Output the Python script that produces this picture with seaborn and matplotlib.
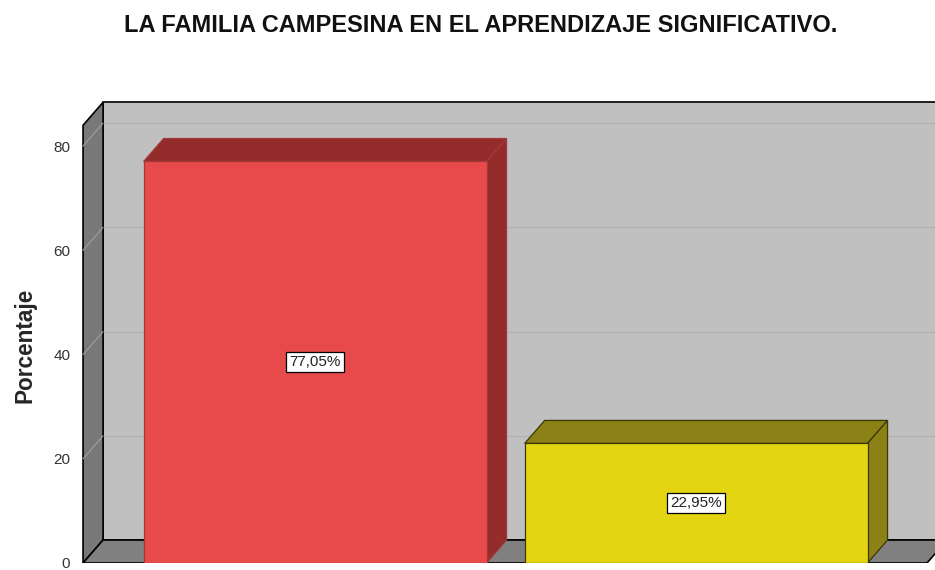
import numpy as np
import pandas as pd
import seaborn as sns
import matplotlib.pyplot as plt
from matplotlib.patches import Polygon, Rectangle

# datos
categorias = ['Sí', 'No']
porcentajes = [77.05, 22.95]
etiquetas = ['77,05%', '22,95%']
ticks_y = [0, 20, 40, 60, 80]
titulo = 'LA FAMILIA CAMPESINA EN EL APRENDIZAJE SIGNIFICATIVO.'

color_frente = ['#E84A4B', '#E3D511']
color_lado = ['#952C2C', '#8C8116']
color_borde = ['#A33838', '#3C3805']

sns.set_style('white')
plt.rcParams['font.family'] = ['Liberation Sans', 'DejaVu Sans']

fig = plt.figure(figsize=(9.35, 5.70), dpi=100)
# ejes: de 80 a 935 px en x, de 563 a 94 px en y
ax = fig.add_axes([80 / 935, 7 / 570, 855 / 935, 469 / 570])

df = pd.DataFrame({'cat': categorias, 'pct': porcentajes})
sns.barplot(data=df, x='cat', y='pct', hue='cat', palette=color_frente,
            width=0.9, legend=False, ax=ax, zorder=5, saturation=1)
barras = list(ax.patches)

ax.set_xlim(-0.617, 1.627)
ax.set_ylim(0, 90)

# profundidad 3D (en unidades de datos)
dx, dy = 0.0525, 4.41
x0, xf = -0.609, 1.606
alto = 84

# pared del fondo, lateral y piso
ax.add_patch(Rectangle((x0 + dx, dy), 3, alto, facecolor='#C0C0C0',
                       edgecolor='black', lw=1.2, zorder=1))
ax.add_patch(Polygon([(x0, 0), (x0 + dx, dy), (x0 + dx, dy + alto), (x0, alto)],
                     closed=True, facecolor='#787878', edgecolor='black',
                     lw=1.2, zorder=2))
ax.add_patch(Polygon([(x0, 0), (xf, 0), (xf + dx, dy), (x0 + dx, dy)],
                     closed=True, facecolor='#808080', edgecolor='black',
                     lw=1.2, zorder=2))
for v in ticks_y[1:]:
    ax.plot([x0 + dx, 3], [v + dy, v + dy], color='#B3B3B3', lw=1, zorder=1.5)
    ax.plot([x0, x0 + dx], [v, v + dy], color='#A0A0A0', lw=0.8, zorder=2.5)

# caras superiores y laterales de las barras
for i, p in enumerate(barras):
    x, w, h = p.get_x(), p.get_width(), p.get_height()
    p.set_edgecolor(color_borde[i])
    p.set_linewidth(0.9)
    ax.add_patch(Polygon([(x, h), (x + w, h), (x + w + dx, h + dy), (x + dx, h + dy)],
                         closed=True, facecolor=color_lado[i],
                         edgecolor=color_borde[i], lw=0.9, zorder=4))
    ax.add_patch(Polygon([(x + w, 0), (x + w + dx, dy), (x + w + dx, h + dy), (x + w, h)],
                         closed=True, facecolor=color_lado[i],
                         edgecolor=color_borde[i], lw=0.9, zorder=4))
    ax.text(x + w / 2, h / 2, etiquetas[i], ha='center', va='center',
            fontsize=11, color='#222222', zorder=6,
            bbox=dict(boxstyle='square,pad=0.2', facecolor='white',
                      edgecolor='black', lw=0.9))

ax.set_yticks(ticks_y)
ax.set_yticklabels([str(t) for t in ticks_y], fontsize=11, color='#333333')
ax.tick_params(axis='y', length=0, pad=7)
ax.set_xticks([])
ax.set_xlabel('')
ax.set_ylabel('')
for s in ax.spines.values():
    s.set_visible(False)

fig.text(25 / 935, 1 - 345 / 570, 'Porcentaje', rotation=90, ha='center',
         va='center', fontsize=16.3, fontweight='bold')
fig.text(481 / 935, 1 - 25 / 570, titulo, ha='center', va='center',
         fontsize=17, fontweight='bold', color='#111111')

fig.savefig('out.png', dpi=100, facecolor='white')
